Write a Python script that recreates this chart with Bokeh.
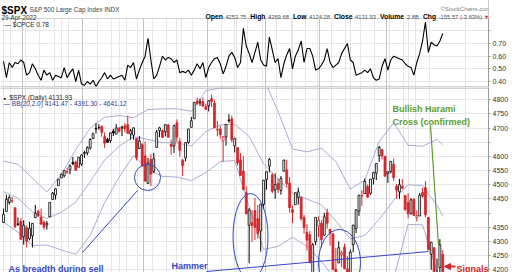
from bokeh.plotting import figure
from bokeh.layouts import column
from bokeh.models import (ColumnDataSource, Label, FixedTicker, Grid, Range1d, BoxAnnotation,
                          Span, Arrow, NormalHead, NumeralTickFormatter)
from bokeh.embed import file_html
from bokeh.resources import INLINE

# ---------------- data (daily, 22-Sep-2021 .. 29-Apr-2022) ----------------
opens = [4367, 4406, 4438, 4443, 4419, 4362, 4371,
         4317, 4348, 4310, 4320, 4384, 4406, 4386, 4368, 4358, 4387, 4448, 4464, 4497, 4524, 4532, 4547, 4553, 4579, 4580, 4562, 4573,
         4610, 4613, 4630, 4663, 4699, 4702, 4707, 4670, 4660, 4656, 4689, 4679, 4701, 4700, 4708, 4712, 4679, 4675, 4664, 4628, 4641,
         4602, 4505, 4590, 4548, 4632, 4691, 4691, 4687, 4711, 4643, 4637, 4719, 4653, 4587, 4595, 4650, 4703, 4733, 4795, 4789, 4794, 4776,
         4779, 4804, 4788, 4693, 4697, 4655, 4669, 4729, 4733, 4637, 4632, 4588, 4548, 4472, 4357, 4367, 4409, 4380, 4337, 4431,
         4519, 4566, 4535, 4482, 4505, 4480, 4548, 4553, 4506, 4412, 4430, 4456, 4456, 4385, 4332, 4324, 4155, 4299, 4354,
         4364, 4322, 4401, 4343, 4327, 4202, 4224, 4253, 4279, 4203, 4188, 4289, 4346, 4407, 4462, 4469, 4494, 4470, 4522, 4541, 4603, 4624, 4600,
         4540, 4547, 4572, 4495, 4475, 4494, 4462, 4437, 4398, 4449, 4385, 4390, 4473, 4490, 4385, 4255, 4278, 4187, 4208, 4254]
highs = [4416, 4465, 4463, 4457, 4419, 4385, 4382,
         4375, 4356, 4369, 4365, 4429, 4412, 4416, 4374, 4372, 4439, 4475, 4488, 4520, 4540, 4551, 4560, 4572, 4598, 4585, 4597, 4608,
         4620, 4636, 4664, 4684, 4718, 4714, 4708, 4685, 4666, 4684, 4697, 4714, 4701, 4708, 4718, 4744, 4697, 4703, 4664, 4672, 4647,
         4652, 4595, 4608, 4613, 4694, 4705, 4695, 4713, 4715, 4660, 4712, 4731, 4666, 4591, 4651, 4697, 4740, 4791, 4808, 4804, 4808, 4787,
         4797, 4819, 4798, 4725, 4708, 4673, 4714, 4749, 4744, 4666, 4632, 4612, 4602, 4495, 4418, 4411, 4454, 4429, 4432, 4517,
         4546, 4595, 4542, 4540, 4522, 4531, 4589, 4589, 4527, 4427, 4472, 4490, 4456, 4394, 4362, 4337, 4295, 4385, 4388,
         4375, 4401, 4416, 4343, 4328, 4277, 4300, 4268, 4292, 4248, 4272, 4358, 4412, 4465, 4481, 4522, 4501, 4520, 4546, 4575, 4637, 4627, 4603,
         4548, 4583, 4593, 4503, 4521, 4520, 4464, 4471, 4453, 4452, 4410, 4471, 4489, 4513, 4386, 4299, 4278, 4240, 4308, 4270]
lows = [4367, 4406, 4430, 4436, 4346, 4355, 4306,
        4289, 4279, 4304, 4279, 4384, 4386, 4360, 4342, 4342, 4387, 4448, 4448, 4496, 4524, 4526, 4538, 4537, 4569, 4551, 4562, 4567,
        4595, 4604, 4624, 4662, 4681, 4694, 4670, 4630, 4650, 4648, 4672, 4679, 4684, 4672, 4686, 4680, 4659, 4659, 4586, 4626, 4564,
        4511, 4504, 4495, 4541, 4632, 4668, 4665, 4671, 4667, 4606, 4612, 4651, 4600, 4531, 4583, 4645, 4703, 4733, 4781, 4778, 4775, 4766,
        4759, 4775, 4700, 4671, 4663, 4582, 4638, 4719, 4650, 4614, 4568, 4533, 4480, 4396, 4223, 4298, 4305, 4310, 4264, 4415,
        4483, 4544, 4470, 4451, 4471, 4465, 4548, 4491, 4402, 4365, 4430, 4430, 4373, 4328, 4268, 4222, 4114, 4287, 4316,
        4279, 4322, 4345, 4285, 4199, 4157, 4224, 4209, 4202, 4161, 4187, 4262, 4329, 4390, 4425, 4469, 4455, 4465, 4501, 4517, 4581, 4589, 4530,
        4507, 4540, 4514, 4451, 4450, 4484, 4408, 4382, 4395, 4390, 4371, 4390, 4455, 4385, 4268, 4200, 4175, 4169, 4183, 4124]
closes = [4395, 4449, 4455, 4443, 4353, 4360, 4308,
          4357, 4301, 4346, 4364, 4399, 4391, 4361, 4351, 4364, 4438, 4471, 4486, 4520, 4537, 4550, 4545, 4567, 4574, 4551, 4597, 4605,
          4614, 4631, 4660, 4680, 4697, 4702, 4685, 4647, 4650, 4683, 4683, 4701, 4689, 4704, 4698, 4682, 4691, 4701, 4595, 4655, 4567,
          4513, 4577, 4538, 4592, 4686, 4701, 4668, 4712, 4668, 4635, 4709, 4668, 4621, 4568, 4649, 4697, 4726, 4791, 4786, 4793, 4778, 4766,
          4797, 4794, 4701, 4696, 4677, 4670, 4713, 4726, 4659, 4663, 4577, 4533, 4483, 4398, 4410, 4357, 4350, 4327, 4432, 4516,
          4546, 4589, 4477, 4501, 4484, 4522, 4587, 4504, 4419, 4402, 4472, 4475, 4380, 4349, 4305, 4226, 4288, 4385, 4374,
          4306, 4387, 4364, 4329, 4201, 4171, 4278, 4260, 4204, 4173, 4262, 4358, 4412, 4463, 4461, 4512, 4456, 4520, 4543, 4575, 4632, 4602, 4530,
          4546, 4583, 4525, 4481, 4500, 4488, 4413, 4397, 4447, 4392, 4391, 4463, 4460, 4394, 4272, 4297, 4175, 4183, 4288, 4132]
prev_close_before = 4354

cpce = [0.56, 0.43, 0.55, 0.51, 0.55, 0.54, 0.57, 0.55, 0.45, 0.47,
        0.54, 0.50, 0.45, 0.41, 0.49, 0.45, 0.47, 0.41, 0.45, 0.44,
        0.43, 0.51, 0.43, 0.47, 0.50, 0.40, 0.49, 0.38, 0.37, 0.40,
        0.38, 0.41, 0.36, 0.40, 0.43, 0.47, 0.42, 0.45, 0.42, 0.43,
        0.44, 0.45, 0.41, 0.53, 0.51, 0.55, 0.42, 0.49, 0.55, 0.60,
        0.74, 0.57, 0.42, 0.45, 0.52, 0.60, 0.57, 0.59, 0.58, 0.55,
        0.57, 0.47, 0.48, 0.47, 0.49, 0.45, 0.49, 0.54, 0.50, 0.55,
        0.43, 0.51, 0.55, 0.58, 0.59, 0.54, 0.46, 0.52, 0.60, 0.63,
        0.59, 0.51, 0.55, 0.82, 0.68, 0.62, 0.55, 0.63, 0.71, 0.57,
        0.53, 0.52, 0.75, 0.65, 0.55, 0.58, 0.43, 0.54, 0.61, 0.66,
        0.50, 0.60, 0.65, 0.72, 0.55, 0.66, 0.66, 0.60, 0.49, 0.50,
        0.53, 0.57, 0.66, 0.55, 0.51, 0.53, 0.55, 0.62, 0.66, 0.70,
        0.57, 0.55, 0.45, 0.46, 0.47, 0.49, 0.47, 0.50, 0.43, 0.41,
        0.42, 0.52, 0.58, 0.49, 0.57, 0.60, 0.59, 0.58, 0.57, 0.54,
        0.52, 0.51, 0.45, 0.55, 0.62, 0.72, 0.87, 0.63, 0.71, 0.69,
        0.68, 0.72, 0.78]

bb_day = [0, 5, 10, 15, 20, 25, 30, 35, 40, 45, 50, 55, 60, 65, 70, 75,
          80, 85, 90, 95, 100, 105, 110, 115, 120, 125, 130, 135, 140, 145, 150, 152]
bb_mid = [4475.9, 4452.5, 4404.8, 4380.9, 4402.7, 4439.1, 4510.6, 4587.9, 4635.6, 4670.0, 4660.0,
          4648.7, 4648.0, 4637.3, 4687.6, 4711.6, 4713.6, 4670.6, 4574.0, 4520.6, 4470.7, 4449.7,
          4429.6, 4372.3, 4309.5, 4320.7, 4378.1, 4444.8, 4499.9, 4497.2, 4427.0, 4391.3]
bb_upper = [4583.8, 4572.0, 4523.5, 4474.4, 4535.1, 4623.8, 4700.2, 4738.5, 4744.4, 4737.0, 4765.7,
            4767.8, 4768.7, 4759.5, 4832.0, 4841.5, 4841.3, 4918.1, 4876.0, 4758.5, 4626.6, 4616.3,
            4629.1, 4581.9, 4484.6, 4516.1, 4652.6, 4719.0, 4639.7, 4635.8, 4660.5, 4641.1]
bb_lower = [4367.9, 4333.0, 4286.0, 4287.3, 4270.3, 4254.3, 4321.0, 4437.2, 4526.7, 4603.0, 4554.3,
            4529.6, 4527.3, 4515.1, 4543.2, 4581.7, 4585.8, 4423.0, 4271.9, 4282.6, 4314.8, 4283.1,
            4230.0, 4162.7, 4134.3, 4125.3, 4103.5, 4170.5, 4360.0, 4358.6, 4193.4, 4141.5]

week_start_days = [3, 8, 13, 18, 23, 28, 33, 38, 43, 47, 52, 57, 62, 66, 71, 76, 81, 85, 90,
                   95, 100, 105, 109, 114, 119, 124, 129, 134, 139, 143, 148]
month_start_days = [7, 28, 49, 71, 91, 110, 133]

cpce_ticks = [0.4, 0.5, 0.6, 0.7, 0.8]
spx_ticks = [4200, 4250, 4300, 4350, 4400, 4450, 4500, 4550, 4600, 4650, 4700, 4750, 4800]

header_items = [("Open", "4253.75"), ("High", "4269.68"), ("Low", "4124.28"),
                ("Close", "4131.93"), ("Volume", "2.8B"), ("Chg", "-155.57 (-3.63%)")]

# ---------------- geometry (window pixels) ----------------
W = 520
FW = 488
RB = W - FW
PXD = 2.89          # pixels per trading day
X0 = 3              # pixel of first candle
XS, XE = -X0 / PXD, (FW - X0) / PXD
H1 = 87             # top panel canvas: window y 0..87
H2 = 185            # bottom panel canvas: window y 87..272
HDR = 18            # header band inside top panel

def xd(px):
    return (px - X0) / PXD

def y1(py):          # window y -> CPCE value
    return 0.70 - (py - 43) / 126.7

def y2(py):          # window y -> SPX price
    return 4800 - (py - 99.3) / 0.28333

PPU2 = 0.28333

FONT = "Liberation Sans"
RED = "#d8262a"
BLUE = "#3346c8"
GREEN = "#5c9e2e"
BAND = "#ababd6"

# approximate Arial/Liberation advance widths (em) for header layout
W_REG = dict(zip("0123456789.", [0.556] * 10 + [0.278]))
W_REG.update({" ": 0.278, "-": 0.333, "(": 0.333, ")": 0.333, "%": 0.889, "B": 0.667})
W_BOLD = {"O": .778, "p": .611, "e": .556, "n": .611, "H": .722, "i": .278, "g": .611, "h": .611,
          "L": .611, "o": .611, "w": .778, "C": .722, "l": .278, "s": .556, "V": .667, "u": .611,
          "m": .889}

def tw(s, table, size):
    return sum(table.get(ch, 0.6) for ch in s) * size

def base_fig(h, yr):
    p = figure(width=W, height=h, x_range=Range1d(XS, XE), y_range=yr,
               min_border_top=0, min_border_bottom=0, min_border_left=0, min_border_right=RB,
               y_axis_location="right", x_axis_location=None, toolbar_location=None,
               output_backend="svg", title=None, background_fill_color="white",
               border_fill_color="white", outline_line_color=None)
    ax = p.yaxis[0]
    ax.major_label_text_font = FONT
    ax.major_label_text_font_size = "7px"
    ax.major_label_text_color = "#333333"
    ax.major_label_standoff = 2
    ax.major_tick_in = 0
    ax.major_tick_out = 2
    ax.minor_tick_out = 0
    ax.minor_tick_in = 0
    ax.axis_line_color = "#9a9a9a"
    ax.major_tick_line_color = "#9a9a9a"
    p.ygrid.grid_line_color = "#e6e6e6"
    gw = Grid(dimension=0, ticker=FixedTicker(ticks=[d - 0.5 for d in week_start_days]),
              grid_line_color="#e6e6e6")
    gm = Grid(dimension=0, ticker=FixedTicker(ticks=[d - 0.5 for d in month_start_days]),
              grid_line_color="#c4c4c4")
    p.add_layout(gw)
    p.add_layout(gm)
    return p

def lab(p, x, y, text, size="7px", color="#222222", bold=False, align="left", **kw):
    p.add_layout(Label(x=x, y=y, text=text, text_font=FONT, text_font_size=size,
                       text_color=color, text_font_style="bold" if bold else "normal",
                       text_align=align, text_baseline="alphabetic", **kw))

n = len(closes)
days = list(range(n))

# ---------------- top panel: $CPCE ----------------
p1 = base_fig(H1, Range1d(y1(H1), y1(0)))
p1.yaxis[0].ticker = FixedTicker(ticks=cpce_ticks)
p1.yaxis[0].formatter = NumeralTickFormatter(format="0.00")
p1.yaxis[0].major_label_overrides = {0.8: ""}
p1.line(days, cpce, line_color="black", line_width=1.1)

# white header band above the indicator panel
p1.add_layout(BoxAnnotation(bottom=y1(HDR), top=y1(-2), left=XS - 1, right=XE + 20,
                            fill_color="white", fill_alpha=1.0, line_color=None))
p1.add_layout(Span(location=y1(HDR), dimension="width", line_color="#d0d0d0", line_width=1))
p1.add_layout(Span(location=y1(H1 - 0.5), dimension="width", line_color="#a8a8a8", line_width=1))

lab(p1, xd(1), y1(10), "$SPX", size="10px", color="black", bold=True)
lab(p1, xd(29), y1(9), "S&P 500 Large Cap Index  INDX", size="6.3px", color="#444444")
lab(p1, xd(1), y1(17), "29-Apr-2022", size="6.3px", color="#333333")
lab(p1, xd(490), y1(8), "\u00a9StockCharts.com", size="6px", color="#808080", align="right")
BS, RS = 6.8, 5.8
hx = 205.0
for key, val in header_items:
    lab(p1, xd(hx), y1(16), key, size="%.1fpx" % BS, color="black", bold=True)
    hx += tw(key, W_BOLD, BS) + 2.5
    lab(p1, xd(hx), y1(16), val, size="%.1fpx" % RS, color="#505050")
    hx += tw(val, W_REG, RS) + 4
lab(p1, xd(hx - 2.5), y1(16), "\u25bc", size="5.5px", color=RED)
lab(p1, xd(4), y1(24), "\u2014 $CPCE %.2f" % cpce[-1], size="6.5px", color="#222222")
p1.add_layout(Label(x=XE + 0.4, y=cpce[-1], text="%.2f" % cpce[-1], text_font=FONT,
                    text_font_size="7px", text_font_style="bold", text_color="black",
                    text_baseline="middle", text_align="left",
                    border_line_color="black", background_fill_color="white",
                    padding=1))

# ---------------- bottom panel: $SPX candles + BB ----------------
p2 = base_fig(H2, Range1d(y2(272), y2(87)))
p2.yaxis[0].ticker = FixedTicker(ticks=spx_ticks)
p2.yaxis[0].formatter = NumeralTickFormatter(format="0")
p2.yaxis[0].major_label_overrides = {4650: "", 4400: ""}
p2.add_layout(Span(location=y2(87.5), dimension="width", line_color="#a8a8a8", line_width=1))

for band in (bb_upper, bb_mid, bb_lower):
    p2.line(bb_day, band, line_color=BAND, line_width=1)

prev = [prev_close_before] + closes[:-1]
col = [RED if c < pc else "black" for c, pc in zip(closes, prev)]
fill = [("white" if c > o else cl) for o, c, cl in zip(opens, closes, col)]
src = ColumnDataSource(dict(x=days, o=opens, h=highs, l=lows, c=closes,
                            top=[max(o, c) for o, c in zip(opens, closes)],
                            bot=[min(o, c) for o, c in zip(opens, closes)],
                            col=col, fill=fill))
p2.segment(x0="x", y0="l", x1="x", y1="h", line_color="col", line_width=1, source=src)
p2.vbar(x="x", width=0.66, top="top", bottom="bot", fill_color="fill", line_color="col",
        line_width=0.8, source=src)

# value tags on axis
for val, txt in ((bb_upper[-1], "4641.12"), (bb_mid[-1], "4391.30")):
    p2.add_layout(Label(x=XE + 0.3, y=val, text=txt, text_font=FONT, text_font_size="6.5px",
                        text_color="#1c1c7a", text_baseline="middle", text_align="left",
                        border_line_color="#2a2a9a", background_fill_color="white", padding=1))

# legends
lab(p2, xd(3), y2(97.5), "\u25aa", size="7px", color="black")
lab(p2, xd(9), y2(97), "$SPX (Daily) 4131.93", size="6.5px", color="#222222")
lab(p2, xd(3), y2(103), "\u2014 BB(20,2.0) 4141.47 - 4391.30 - 4641.12", size="6.5px", color="#2b3a9c")

# annotations
p2.ellipse(x=[xd(147), xd(250), xd(339)], y=[y2(177), y2(236), y2(262)],
           width=[26 / PXD, 35 / PXD, 42 / PXD], height=[26 / PPU2, 86 / PPU2, 66 / PPU2],
           fill_color=None, line_color=BLUE, line_width=1)
p2.segment(x0=[xd(137), xd(206)], y0=[y2(190), y2(271)], x1=[xd(82), xd(428)], y1=[y2(252), y2(251)],
           line_color=BLUE, line_width=1)
p2.segment(x0=[xd(430)], y0=[y2(125)], x1=[xd(438)], y1=[y2(245)], line_color=GREEN, line_width=1.2)
p2.add_layout(Arrow(end=NormalHead(size=6, fill_color=RED, line_color=RED), line_color=RED,
                    line_width=2, x_start=xd(455), y_start=y2(266), x_end=xd(444), y_end=y2(266)))

lab(p2, xd(392), y2(108), "Bullish Harami", size="9px", color=GREEN, bold=True)
lab(p2, xd(392), y2(121), "Cross (confirmed)", size="9px", color=GREEN, bold=True)
lab(p2, xd(8), y2(268), "As breadth during sell", size="9px", color=BLUE, bold=True)
lab(p2, xd(171), y2(265), "Hammer", size="9px", color=BLUE, bold=True)
lab(p2, xd(171), y2(277), "Signal", size="9px", color=BLUE, bold=True)
lab(p2, xd(456), y2(268), "Signals", size="9px", color=RED, bold=True)

layout = column(p1, p2, spacing=0)
open("out.html", "w").write(file_html(layout, INLINE))
